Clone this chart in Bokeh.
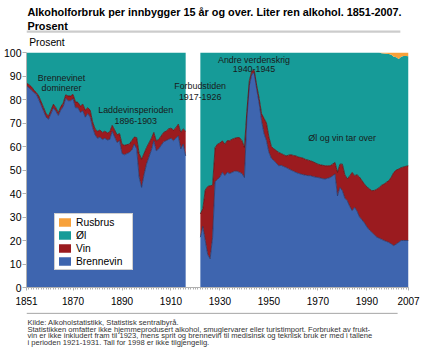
from bokeh.plotting import figure
from bokeh.models import (ColumnDataSource, Range1d, FixedTicker, Label,
                          Legend, LegendItem)
from bokeh.layouts import column
from bokeh.core.properties import value
from bokeh.embed import file_html
from bokeh.resources import INLINE

# ---------------- data (percent shares) ----------------
years_a = list(range(1851, 1917))
brennevin_a = [85.8, 85.0, 84.0, 83.0, 82.2, 80.0, 77.5, 75.0, 72.5, 71.6,
               74.0, 76.5, 75.0, 73.2, 75.5, 77.0, 80.5, 79.5, 79.5, 80.3,
               76.5, 76.5, 74.5, 75.2, 72.5, 74.0, 72.5, 68.0, 65.0, 63.5,
               64.0, 63.0, 63.5, 62.8, 63.0, 66.5, 64.0, 61.7, 62.5, 57.0,
               56.5, 57.0, 57.5, 58.5, 61.0, 59.0, 47.0, 42.6, 48.0, 52.5,
               55.5, 58.5, 62.4, 58.2, 59.0, 60.5, 62.0, 62.5, 63.0, 63.5,
               62.5, 63.5, 64.5, 59.0, 61.0, 56.0]
vin_a = [1.2, 1.3, 1.5, 1.0, 0.8, 1.5, 1.5, 1.5, 1.5, 1.4,
         1.5, 1.5, 1.5, 1.2, 1.5, 1.5, 1.5, 2.0, 2.0, 1.9,
         2.5, 2.3, 2.7, 2.8, 3.0, 2.5, 3.0, 2.5, 2.5, 3.0,
         3.0, 3.0, 3.0, 3.0, 3.2, 2.5, 3.0, 3.3, 3.0, 4.0,
         4.0, 3.8, 3.5, 4.0, 3.0, 4.8, 10.0, 12.0, 9.0, 7.0,
         6.0, 5.0, 3.6, 4.2, 4.0, 4.0, 4.0, 4.0, 4.5, 4.3,
         4.5, 4.5, 5.0, 7.0, 6.5, 10.5]
ol_a = [13.0, 13.7, 14.5, 16.0, 17.0, 18.5, 21.0, 23.5, 26.0, 27.0,
        24.5, 22.0, 23.5, 25.6, 23.0, 21.5, 18.0, 18.5, 18.5, 17.8,
        21.0, 21.2, 22.8, 22.0, 24.5, 23.5, 24.5, 29.5, 32.5, 33.5,
        33.0, 34.0, 33.5, 34.2, 33.8, 31.0, 33.0, 35.0, 34.5, 39.0,
        39.5, 39.2, 39.0, 37.5, 36.0, 36.2, 43.0, 45.4, 43.0, 40.5,
        38.5, 36.5, 34.0, 37.6, 37.0, 35.5, 34.0, 33.5, 32.5, 32.2,
        33.0, 32.0, 30.5, 34.0, 32.5, 33.5]
rusbrus_a = [0.0] * len(years_a)

years_b = list(range(1922, 2008))
brennevin_b = [21.4, 26.0, 20.0, 14.0, 12.2, 21.4, 45.0, 46.0, 47.0, 49.0,
               47.6, 49.0, 48.5, 49.0, 49.5, 49.5, 49.0, 48.5, 46.8, 72.0,
               86.0, 90.7, 91.4, 84.5, 78.5, 71.0, 65.5, 62.5, 57.5, 55.0,
               54.0, 53.0, 51.8, 52.0, 51.5, 51.1, 50.5, 50.0, 49.5, 49.0,
               48.6, 48.3, 48.0, 47.8, 47.6, 47.6, 47.2, 47.0, 46.8, 46.6,
               46.3, 46.2, 46.5, 46.8, 47.5, 48.3, 39.0, 42.6, 41.2, 38.0,
               36.9, 34.5, 32.7, 34.1, 32.5, 30.0, 28.8, 27.5, 25.8, 24.5,
               23.5, 22.5, 21.5, 21.0, 20.5, 20.0, 19.6, 19.2, 18.5, 17.8,
               18.5, 19.2, 20.0, 20.0, 20.0, 20.0]
vin_b = [9.9, 7.5, 21.5, 29.0, 31.1, 22.1, 14.5, 15.0, 14.5, 13.4,
         13.4, 13.5, 14.0, 14.1, 14.0, 14.3, 14.8, 14.0, 12.8, 3.0,
         2.0, 1.4, 1.0, 1.5, 2.0, 3.0, 6.5, 7.5, 6.5, 5.0,
         5.0, 5.3, 5.7, 5.0, 5.0, 4.9, 5.8, 6.5, 6.7, 7.0,
         6.9, 7.0, 7.0, 6.7, 6.6, 6.3, 6.3, 6.0, 5.7, 5.6,
         5.7, 5.6, 5.3, 5.0, 5.0, 4.9, 10.0, 9.9, 11.3, 10.0,
         9.3, 13.0, 16.3, 13.5, 15.5, 17.0, 16.7, 16.5, 17.0, 17.5,
         17.7, 18.8, 20.3, 21.5, 23.0, 24.0, 25.2, 26.3, 28.5, 31.2,
         31.5, 31.2, 31.0, 31.3, 31.6, 31.8]
ol_b = [68.7, 66.5, 58.5, 57.0, 56.7, 56.5, 40.5, 39.0, 38.5, 37.6,
        39.0, 37.5, 37.5, 36.9, 36.5, 36.2, 36.2, 37.5, 40.4, 25.0,
        12.0, 7.9, 7.6, 14.0, 19.5, 26.0, 28.0, 30.0, 36.0, 40.0,
        41.0, 41.7, 42.5, 43.0, 43.5, 44.0, 43.7, 43.5, 43.8, 44.0,
        44.5, 44.7, 45.0, 45.5, 45.8, 46.1, 46.5, 47.0, 47.5, 47.8,
        48.0, 48.2, 48.2, 48.2, 47.5, 46.8, 51.0, 47.5, 47.5, 52.0,
        53.8, 52.5, 51.0, 52.4, 52.0, 53.0, 54.5, 56.0, 57.2, 58.0,
        58.8, 58.7, 58.2, 57.5, 56.2, 55.6, 54.7, 53.9, 52.0, 49.2,
        48.0, 46.8, 47.2, 47.2, 46.9, 46.6]
rusbrus_b = [0.0] * 74 + [0.3, 0.4, 0.5, 0.6, 1.0, 1.8, 2.0, 2.8, 1.8, 1.5, 1.5, 1.6]

tick_years = [1851, 1870, 1890, 1910, 1930, 1950, 1970, 1990, 2007]
y_ticks = [0, 10, 20, 30, 40, 50, 60, 70, 80, 90, 100]

series = ["brennevin", "vin", "ol", "rusbrus"]
series_labels = ["Brennevin", "Vin", "Øl", "Rusbrus"]

title_lines = ["Alkoholforbruk per innbygger 15 år og over. Liter ren alkohol. 1851-2007.",
               "Prosent"]
unit_label = "Prosent"
footnotes = ["Kilde: Alkoholstatistikk, Statistisk sentralbyrå.",
             "Statistikken omfatter ikke hjemmeprodusert alkohol, smuglervarer eller turistimport. Forbruket av frukt-",
             "vin er ikke inkludert fram til 1923, mens sprit og brennevin til medisinsk og teknisk bruk er med i tallene",
             "i perioden 1921-1931. Tall for 1998 er ikke tilgjengelig."]

# ---------------- styling ----------------
C_BR, C_VIN, C_OL, C_RUS = "#3E65AF", "#9B1B1F", "#169B98", "#F7A13A"
E_BR, E_VIN = "#22396B", "#5E0F12"
FONT = "Liberation Sans"
W = 421
TOP_H, MAIN_H, BOT_H = 47, 265, 40


def text_panel(h):
    f = figure(width=W, height=h, output_backend="svg", toolbar_location=None,
               title=None, x_range=Range1d(0, W), y_range=Range1d(h, 0),
               x_axis_location=None, y_axis_location=None,
               min_border_left=0, min_border_right=0, min_border_top=0, min_border_bottom=0,
               outline_line_color=None, background_fill_color="white",
               border_fill_color="white")
    f.xgrid.visible = False
    f.ygrid.visible = False
    return f


# ---- top panel: title, separator, unit label ----
top = text_panel(TOP_H)
top.text(x=[1], y=[11.7], text=[title_lines[0]], text_font=value(FONT),
         text_font_size="10.85px", text_font_style="bold", text_color="#000000",
         text_align="left", text_baseline="alphabetic")
top.text(x=[1], y=[25.3], text=[title_lines[1]], text_font=value(FONT),
         text_font_size="10.85px", text_font_style="bold", text_color="#000000",
         text_align="left", text_baseline="alphabetic")
top.quad(left=[0], right=[412], top=[30.0], bottom=[32.3], fill_color="#cccccc", line_color=None)
top.text(x=[3], y=[41.7], text=[unit_label], text_font=value(FONT),
         text_font_size="10.3px", text_color="#000000",
         text_align="left", text_baseline="alphabetic")

# ---- main chart ----
p = figure(width=W, height=MAIN_H, output_backend="svg", toolbar_location=None,
           title=None,
           x_range=Range1d(1851, 2007), y_range=Range1d(0, 100),
           min_border_left=25, min_border_right=13,
           min_border_top=5, min_border_bottom=25,
           background_fill_color="white", border_fill_color="white",
           outline_line_color=None)
p.xgrid.visible = False
p.ygrid.visible = False

src_a = ColumnDataSource(dict(year=years_a, brennevin=brennevin_a, vin=vin_a,
                              ol=ol_a, rusbrus=rusbrus_a))
src_b = ColumnDataSource(dict(year=years_b, brennevin=brennevin_b, vin=vin_b,
                              ol=ol_b, rusbrus=rusbrus_b))

cols = [C_BR, C_VIN, C_OL, C_RUS]
ra = p.varea_stack(series, x="year", color=cols, source=src_a)
rb = p.varea_stack(series, x="year", color=cols, source=src_b)
p.vline_stack(["brennevin", "vin"], x="year", color=[E_BR, E_VIN], line_width=0.8, source=src_a)
p.vline_stack(["brennevin", "vin"], x="year", color=[E_BR, E_VIN], line_width=0.8, source=src_b)

xa = p.xaxis[0]
xa.ticker = FixedTicker(ticks=tick_years, minor_ticks=list(range(1851, 2008)))
xa.axis_line_color = "#b0b0b0"
xa.major_tick_line_color = "#b0b0b0"
xa.minor_tick_line_color = "#b0b0b0"
xa.major_tick_in = 0
xa.major_tick_out = 3
xa.minor_tick_in = 0
xa.minor_tick_out = 2
xa.major_label_text_font = FONT
xa.major_label_text_font_size = "10px"
xa.major_label_text_color = "#000000"
xa.major_label_standoff = 6

ya = p.yaxis[0]
ya.ticker = FixedTicker(ticks=y_ticks)
ya.axis_line_color = "#b0b0b0"
ya.major_tick_line_color = "#b0b0b0"
ya.minor_tick_line_color = None
ya.major_tick_in = 0
ya.major_tick_out = 4
ya.major_label_text_font = FONT
ya.major_label_text_font_size = "10.5px"
ya.major_label_text_color = "#000000"
ya.major_label_standoff = 1

items = [LegendItem(label=series_labels[i], renderers=[ra[i], rb[i]]) for i in (3, 2, 1, 0)]
legend = Legend(items=items, location=(28, 17), orientation="vertical",
                label_text_font=FONT, label_text_font_size="10.3px", label_text_color="#000000",
                glyph_width=15, glyph_height=10, label_height=12, label_width=54,
                label_standoff=4, spacing=1, padding=2, margin=0,
                border_line_color="#a0a0a0", border_line_width=1,
                background_fill_color="white", background_fill_alpha=1.0)
p.add_layout(legend)

ann = [("Brennevinet", 1865.3, 89.0), ("dominerer", 1865.3, 84.7),
       ("Laddevinsperioden", 1895.6, 75.4), ("1896-1903", 1895.6, 70.7),
       ("Forbudstiden", 1921.9, 85.6), ("1917-1926", 1921.9, 81.1),
       ("Andre verdenskrig", 1943.9, 97.0), ("1940-1945", 1943.9, 92.9),
       ("Øl og vin tar over", 1979.9, 63.7)]
for t, x, y in ann:
    p.add_layout(Label(x=x, y=y, text=t, text_align="center", text_baseline="alphabetic",
                       text_font=FONT, text_font_size="8.9px", text_color="#1a1a1a"))

# ---- bottom panel: separator and footnotes ----
bot = text_panel(BOT_H)
bot.quad(left=[0], right=[409], top=[0.2], bottom=[1.2], fill_color="#999999", line_color=None)
for i, t in enumerate(footnotes):
    bot.text(x=[1], y=[9.7 + 6.8 * i], text=[t], text_font=value(FONT),
             text_font_size="7.6px", text_color="#333333",
             text_align="left", text_baseline="alphabetic")

layout = column(top, p, bot, spacing=0)
open("out.html", "w", encoding="utf-8").write(file_html(layout, INLINE))
